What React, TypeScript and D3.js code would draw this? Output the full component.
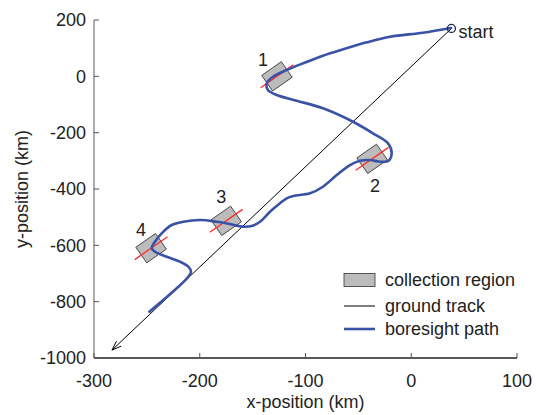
import React from "react";
import * as d3 from "d3";

const xTicks = [-300, -200, -100, 0, 100];
const yTicks = [200, 0, -200, -400, -600, -800, -1000];

// boresight path (km)
const pathX = [37.6, 11.1, -20.1, -42.1, -64.5, -83.5, -102.4, -117.8, -130.7, -136.7, -135.5, -127.2, -108.3, -83.5, -55.1, -36.2, -22, -18.5, -21.7, -29.6, -39, -48.5, -57.9, -70.5, -83.5, -95.7, -111.5, -117.8, -124.1, -133.6, -143, -150.9, -158.8, -171.4, -184, -199.8, -215.6, -226.5, -236, -242.3, -245.4, -242.3, -231.3, -218.7, -210.8, -208.3, -210.8, -221.8, -234.5, -247.7];
const pathY = [171.5, 154.8, 140.6, 120.7, 95.8, 73.1, 46.1, 22.4, -1.4, -24.8, -48.6, -66.4, -86.6, -113.6, -161.2, -202.3, -237.8, -273.3, -300.7, -303.2, -297.1, -299.6, -314.9, -350.4, -391.9, -415.3, -424.9, -433.1, -450.8, -480.7, -516.2, -531.4, -533.9, -524.3, -516.2, -510.1, -516.2, -527.9, -557.3, -587.1, -610.6, -622.6, -640.4, -658.1, -675.9, -693.6, -711.4, -752.6, -794.1, -835.6];

// collection regions (km)
const regionLabels = ["1", "2", "3", "4"];
const regionX = [-127, -37, -175, -246];
const regionY = [0, -293, -513, -610];

// ground track (km)
const trackX = [38, -283];
const trackY = [170, -972];

const startLabel = "start";
const legendLabels = ["collection region", "ground track", "boresight path"];

// styling
const labelOffsets = [
  [-14, -17],
  [3, 27],
  [-5, -24],
  [-10, -18],
];
const W = 539;
const H = 415;
const FONT = "'Liberation Sans', Arial, Helvetica, sans-serif";
const FS = 18;
const BLUE = "#3a52a6";

export default function App() {
  const x = d3.scaleLinear().domain([-300, 100]).range([94, 517]);
  const y = d3.scaleLinear().domain([-1000, 200]).range([358, 20]);

  const pts: [number, number][] = pathX.map((v, i) => [x(v), y(pathY[i])]);
  const line = d3
    .line<[number, number]>()
    .x((d) => d[0])
    .y((d) => d[1])
    .curve(d3.curveCatmullRom.alpha(0.5));

  const tx0 = x(trackX[0]);
  const ty0 = y(trackY[0]);
  const tx1 = x(trackX[1]);
  const ty1 = y(trackY[1]);
  const ang = Math.atan2(ty1 - ty0, tx1 - tx0);
  const ah = 10;
  const aw = (20 * Math.PI) / 180;
  const a1 = [tx1 - ah * Math.cos(ang - aw), ty1 - ah * Math.sin(ang - aw)];
  const a2 = [tx1 - ah * Math.cos(ang + aw), ty1 - ah * Math.sin(ang + aw)];

  const rectW = 24;
  const rectH = 19;
  const redLen = 40;
  const rot = -35;

  const legX = 344;
  const legY = [280, 306, 329];

  return (
    <svg
      width={W}
      height={H}
      style={{ position: "absolute", left: 0, top: 0, background: "#fff" }}
      fontFamily={FONT}
    >
      {/* axes */}
      <line x1={94} x2={94} y1={20} y2={358} stroke="#808080" strokeWidth={1.3} />
      <line x1={94} x2={517} y1={358} y2={358} stroke="#222" strokeWidth={1.3} />
      {yTicks.map((t) => (
        <g key={"y" + t}>
          <line x1={94} x2={99} y1={y(t)} y2={y(t)} stroke="#555" strokeWidth={1} />
          <text x={86} y={y(t)} dy="0.35em" textAnchor="end" fontSize={FS} fill="#222">
            {t}
          </text>
        </g>
      ))}
      {xTicks.map((t) => (
        <g key={"x" + t}>
          <line x1={x(t)} x2={x(t)} y1={358} y2={353} stroke="#555" strokeWidth={1} />
          <text x={x(t)} y={387} textAnchor="middle" fontSize={FS} fill="#222">
            {t}
          </text>
        </g>
      ))}
      <text x={305.5} y={408} textAnchor="middle" fontSize={FS} fill="#222">
        x-position (km)
      </text>
      <text
        transform={`translate(28,189) rotate(-90)`}
        textAnchor="middle"
        fontSize={FS}
        fill="#222"
      >
        y-position (km)
      </text>

      {/* ground track */}
      <line x1={tx0} y1={ty0} x2={tx1} y2={ty1} stroke="#000" strokeWidth={1} />
      <polyline
        points={`${a1[0]},${a1[1]} ${tx1},${ty1} ${a2[0]},${a2[1]}`}
        fill="none"
        stroke="#000"
        strokeWidth={1}
      />

      {/* regions */}
      {regionX.map((rx, i) => {
        const cx = x(rx);
        const cy = y(regionY[i]);
        return (
          <g key={"r" + i}>
            <g transform={`translate(${cx},${cy}) rotate(${rot})`}>
              <rect
                x={-rectW / 2}
                y={-rectH / 2}
                width={rectW}
                height={rectH}
                fill="#bcbcbc"
                stroke="#333"
                strokeWidth={0.8}
              />
              <line x1={-redLen / 2} x2={redLen / 2} y1={0} y2={0} stroke="#ff2a2a" strokeWidth={1.3} />
            </g>
            <text
              x={cx + labelOffsets[i][0]}
              y={cy + labelOffsets[i][1]}
              dy="0.35em"
              textAnchor="middle"
              fontSize={FS}
              fill="#222"
            >
              {regionLabels[i]}
            </text>
          </g>
        );
      })}

      {/* boresight */}
      <path d={line(pts) || ""} fill="none" stroke={BLUE} strokeWidth={2.6} strokeLinejoin="round" strokeLinecap="round" />

      {/* start marker */}
      <circle cx={tx0} cy={ty0} r={4} fill="none" stroke="#1c2450" strokeWidth={1.3} />
      <text x={tx0 + 7} y={ty0 + 3} dy="0.35em" fontSize={FS} fill="#222">
        {startLabel}
      </text>

      {/* legend */}
      <rect x={legX} y={legY[0] - 6.5} width={31} height={13} fill="#bcbcbc" stroke="#333" strokeWidth={0.8} />
      <line x1={legX} x2={legX + 31} y1={legY[1]} y2={legY[1]} stroke="#000" strokeWidth={1} />
      <line x1={legX} x2={legX + 31} y1={legY[2]} y2={legY[2]} stroke={BLUE} strokeWidth={2.6} />
      {legendLabels.map((l, i) => (
        <text key={l} x={385} y={legY[i]} dy="0.35em" fontSize={FS} fill="#222">
          {l}
        </text>
      ))}
    </svg>
  );
}
